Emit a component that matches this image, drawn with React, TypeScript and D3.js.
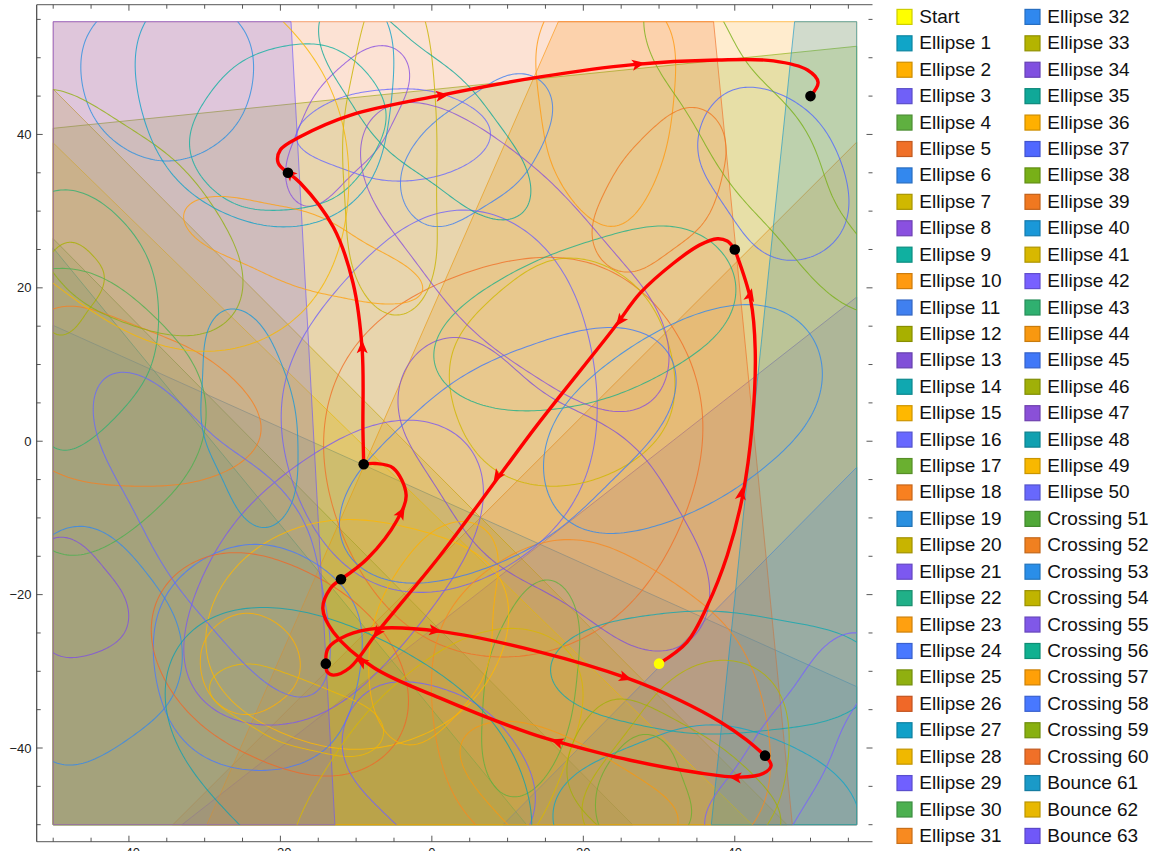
import React from "react";
import * as d3 from "d3";

type P = number[];
const ellipse1: P[] = [[16,-50.1],[16.9,-45.8],[23.2,-41],[35.4,-37.1],[45.1,-38.7],[53.9,-44],[56.2,-48.8],[53.9,-54.7],[35.4,-59.9],[22.2,-57.3]];
const ellipse2: P[] = [[-30.6,-29.2],[-28.9,-24.4],[-24,-22.4],[-19.1,-24.9],[-17.4,-29],[-18.7,-32.7],[-23.6,-35.6],[-28.4,-34.1]];
const ellipse3: P[] = [[1.1,30],[9.9,28.7],[16.6,23.1],[20.5,14.7],[21.8,5.4],[21.6,1.4],[20,-5.3],[15.2,-12.7],[7.7,-17.2],[1.1,-19.7],[-4.2,-19.4],[-10.4,-17.1],[-14.5,-12.9],[-17.8,-6.7],[-19.8,1.4],[-19.6,7.6],[-15.2,16.2],[-8.5,24]];
const ellipse4: P[] = [[15.4,-17.7],[19.2,-22.7],[19.3,-29.2],[17.9,-38],[14.7,-44],[10.6,-46.6],[7.3,-43.2],[6.6,-36.1],[7.7,-28.3],[10.3,-22.3]];
const ellipse5: P[] = [[-13.7,2.1],[-12.1,10.6],[-8.5,14.1],[1.1,20.7],[13,23.9],[23.2,22.3],[31.9,14.9],[36.1,1.4],[35.1,-4.4],[29.8,-16.6],[23.2,-24],[14.3,-27.5],[8.6,-28],[1.1,-26.6],[-4.2,-23.6],[-9.5,-16.2],[-13,-10],[-14.1,-3.5]];
const ellipse6: P[] = [[-50,-12],[-41.6,-13.2],[-35,-21],[-33,-27.5],[-35.5,-35.4],[-42.1,-39.7],[-50,-42],[-59.7,-27.3]];
const ellipse7: P[] = [[2.2,8.9],[5.5,16.2],[16.6,23.9],[27.5,19.7],[31.9,9.7],[30.6,1.4],[24.9,-3.5],[16.6,-5.9],[7.7,-3.5],[4,2.1]];
const ellipse8: P[] = [[-5.5,51.5],[-2.9,47.5],[-6.4,39.3],[-11.2,34.1],[-16.1,30.4],[-19,33.1],[-18.7,38],[-15.2,45.4],[-10.4,50.1]];
const ellipse9: P[] = [[-32.1,39.3],[-28.6,46.4],[-23.3,50.4],[-17.4,51.7],[-12.1,51],[-7.5,46.4],[-5.9,42.8],[-6.8,39.3],[-12.1,32.1],[-21,30.1],[-27,31.4],[-30.6,35]];
const ellipse10: P[] = [[14.7,54.7],[14,46.7],[16,35.7],[22.6,27.9],[27.5,30.5],[31.5,40.2],[31.9,48.8],[31.2,54.7],[22.2,61.4]];
const ellipse11: P[] = [[-3.9,31.8],[-3.1,37.6],[1.1,42.1],[6.4,45.8],[12.1,48],[16,44.1],[13,35.7],[6.8,30.5],[0.2,27.9]];
const ellipse12: P[] = [[-50,24.7],[-46.9,25.8],[-43.2,21.4],[-46.9,15.1],[-50,14.1],[-52.4,19.7]];
const ellipse13: P[] = [[-4.5,7.3],[1.1,13.4],[5.5,13.2],[7.7,12.3],[14.3,6.3],[23.2,2.1],[32.8,-8.7],[36.4,-18.8],[35.8,-24],[31.9,-27.5],[27.5,-26.6],[20.9,-23.6],[14.3,-19.2],[5.5,-13.2],[-2.9,0.1]];
const ellipse14: P[] = [[15.1,-30.1],[18.7,-25.7],[25.8,-23.1],[35.4,-22.2],[45.1,-23.1],[56.2,-26.2],[59.2,-31.2],[56.2,-34.2],[49.6,-37.1],[36.4,-38.1],[27.5,-37.1],[19.6,-34.4]];
const ellipse15: P[] = [[-29.7,-26],[-28.1,-19.4],[-22.7,-13.6],[-15.2,-10.7],[-10.4,-10.3],[-4.2,-10.7],[1.1,-12.9],[5.5,-14.5],[8.6,-16.2],[9.9,-24],[9.6,-27.5],[6.8,-31.8],[1.1,-37.4],[-4.2,-39.3],[-10.4,-40],[-15.2,-39.7],[-24,-35.8],[-29.7,-29.2]];
const ellipse16: P[] = [[-18.1,40.2],[-13,44.5],[-5.1,45.9],[1.1,45.4],[5.5,43.2],[8,40.2],[5.5,36.7],[1.1,34.7],[-4.6,33.9],[-11.7,35.4],[-17.4,38.4]];
const ellipse17: P[] = [[22,-50.1],[22.6,-43.2],[27.1,-38.4],[31.1,-39.7],[33.7,-45.8],[33.9,-50.1],[27.5,-54.7]];
const ellipse18: P[] = [[-50,17.5],[-41.6,15.8],[-30.6,11.5],[-24,5.3],[-22.3,1.4],[-23.1,-0.9],[-28.4,-4.4],[-37.2,-6],[-43.8,-5.3],[-50,-4],[-59.7,6.7]];
const ellipse19: P[] = [[-46.3,48.1],[-44.3,54.7],[-35,59.8],[-25.6,54.7],[-23.6,48.1],[-26.6,40.2],[-35,36.5],[-43.2,40.2]];
const ellipse20: P[] = [[-8.8,54.7],[-11.2,44.5],[-11.7,35.7],[-10.4,22.7],[-5.1,16],[-0.2,20.6],[0.7,31.4],[0.2,48.8],[-1.1,54.7],[-4.8,61.4]];
const ellipse21: P[] = [[-32.9,-27.5],[-31.9,-22.3],[-28.9,-14.9],[-22.7,-7],[-13,-0.1],[-7.2,2.1],[-2.5,2.7],[1.1,2.1],[5.5,-1.4],[6.8,-6.7],[6.4,-10.6],[3.7,-15.3],[1.1,-21.4],[-4.2,-26],[-8.5,-31.8],[-15.2,-35.7],[-23.1,-36.9],[-29.7,-34.4],[-31.9,-31.2]];
const ellipse22: P[] = [[0,10.6],[2.4,15.8],[11.7,22.6],[27.5,27.8],[35.4,26.9],[40.1,21],[38.1,14.5],[30.2,8.6],[19.6,4.7],[11.7,4],[3.7,6]];
const ellipse23: P[] = [[-33.2,29.7],[-28.9,31.8],[-17.4,30.1],[-8.5,25.8],[-0.6,20.1],[-5.1,18],[-14.8,19.3],[-24,22.7],[-30.6,26.2]];
const ellipse24: P[] = [[-36.8,-27.5],[-35,-19.7],[-28.9,-14.9],[-23.6,-13.3],[-17.4,-14.9],[-10.8,-20.1],[-9.2,-26.6],[-11.2,-36.1],[-15.7,-41.4],[-23.1,-42.8],[-30.6,-41],[-35,-35.4]];
const ellipse25: P[] = [[-50,45.9],[-39.5,40.6],[-30.6,33.1],[-24.9,21.9],[-27,15.8],[-32.9,13.8],[-43.8,16.7],[-50,22.3],[-55,32.7],[-55.7,43.2]];
const ellipse26: P[] = [[-36.9,-24],[-35,-18.4],[-28.9,-14.9],[-25.6,-14.5],[-18.3,-16.2],[-8.5,-22.3],[-4.2,-29.2],[-3,-33.5],[-5.1,-40],[-10.8,-43.2],[-14.8,-43.7],[-26.2,-40],[-35,-31.8]];
const ellipse27: P[] = [[-38,54.7],[-39.1,48.4],[-35.9,36.7],[-30.6,31.8],[-22,27.9],[-13,29.7],[-7.8,34.1],[-5.1,47.1],[-5.9,54.7],[-13.4,61.4],[-26.6,62.8]];
const ellipse28: P[] = [[-29.7,-32.1],[-26.6,-29.5],[-22.7,-29.2],[-15.2,-31.8],[-8.5,-34.8],[-6.2,-38.1],[-8.5,-40.6],[-12.1,-41],[-19.6,-39.3],[-26.2,-35.7]];
const ellipse29: P[] = [[-11.7,-40.6],[-11.2,-36.1],[-8.5,-32.7],[-4.6,-31.3],[1.1,-32.2],[5.5,-34.1],[9,-36.7],[13.4,-44],[13.9,-46.6],[12.6,-50.1],[9,-54.7],[1.1,-54.7],[-4.2,-50.1],[-8.5,-46.6]];
const ellipse30: P[] = [[-50,22.4],[-43.8,21.3],[-35,14.9],[-30.2,6.7],[-29.9,2.1],[-33.2,-5.7],[-38.8,-11],[-43.8,-13.3],[-50,-14.6],[-63.6,4],[-58.4,18.4]];
const ellipse31: P[] = [[-0.5,-30.9],[1.1,-24.9],[5.5,-18.4],[12.1,-14],[17.9,-12.9],[25.3,-14.5],[31.9,-18.4],[37.7,-23.1],[42,-28.8],[44.4,-37.1],[43.8,-47.1],[43,-50.1],[24.9,-59.9],[5.5,-50.1],[2.4,-44.9],[0.7,-37.1]];
const ellipse32: P[] = [[16,1.4],[20,7.6],[31.9,15.4],[40.7,17.7],[47.7,16.2],[51.6,9.7],[48.9,1.4],[40.7,-5.7],[32.8,-10],[24,-11.9],[17.9,-10.6],[14.6,-3.5]];
const ellipse33: P[] = [[19.9,-50.1],[23.2,-41.4],[31.9,-30.9],[39.4,-28.7],[45.1,-31.4],[47.1,-39.3],[44.3,-50.1],[32.8,-57.3]];
const ellipse34: P[] = [[-50,-12.5],[-43.8,-15.8],[-40,-22.4],[-42.1,-26.6],[-46.9,-28],[-50,-27.7],[-54.4,-20.7]];
const ellipse35: P[] = [[-15.2,54.7],[-14.8,52.3],[-9.1,41.5],[1.1,32.7],[6,30.1],[10.3,28.7],[13.2,31.8],[9.9,40.2],[4.1,46.7],[1.1,49.7],[-5.8,54.5],[-10.8,58.2]];
const ellipse36: P[] = [[-8.4,-28.6],[-7.5,-23.4],[-4.2,-16.2],[1.1,-11.2],[3.8,-10.6],[7.7,-11.9],[8.6,-16.6],[6.8,-30.9],[1.1,-37.4],[-1.5,-39.7],[-4.2,-39.4],[-7.2,-36.1]];
const ellipse37: P[] = [[35,38.4],[37.7,44.5],[42,46.2],[49.6,43.2],[53.9,36.7],[55,31.4],[53.5,26.2],[47.7,23.6],[43.4,24.9],[38.1,31.4]];
const ellipse38: P[] = [[27.6,54.7],[31.9,45.8],[38.5,34.9],[45.1,27.1],[49.6,22.3],[56.2,16.7],[61.9,18.4],[56.2,26],[51.7,35.7],[45.1,45.8],[37.8,54.7],[32.8,61.4]];
const ellipse39: P[] = [[21.3,27.1],[22.2,31.4],[27.5,39.3],[34.5,43.7],[38.5,40.2],[38.7,36.7],[36.4,29.2],[29.8,23.6],[25.3,22],[21.8,24.5]];
const ellipse40: P[] = [[-30.2,1.4],[-30.3,9.7],[-28.9,15.8],[-26.4,17.4],[-21.8,14.1],[-18.3,5.3],[-17.7,-2.2],[-18.3,-7.4],[-21.6,-11.5],[-24.9,-9.7],[-28.4,-3.5]];
const ellipse41: P[] = [[-17.4,-50.1],[-15.2,-44.5],[-8.5,-35.4],[1.1,-27.3],[11.3,-24.3],[18.3,-27.9],[19.9,-32.5],[17.6,-42.3],[9,-54.7],[-14.8,-59.9],[-18.7,-54.7]];
const ellipse42: P[] = [[35.8,-50.1],[43,-38.4],[49.6,-29.6],[53.9,-25.3],[56.2,-24.8],[59.2,-27.3],[56.6,-33.1],[52.2,-41.9],[47.7,-50.1],[42,-54.7]];
const ellipse43: P[] = [[-48,32.9],[-39.5,27.5],[-36,16.2],[-39.5,5.3],[-48,-1],[-50,-0.9],[-59.7,15.8],[-54.4,29.5],[-50,32.5]];
const ellipse44: P[] = [[3.3,-40.6],[4.7,-38],[9,-36.5],[16.6,-38],[23.2,-41.4],[29.8,-45.8],[32.8,-50.1],[22.2,-57.3],[9.9,-50.1],[5.5,-44]];
const ellipse45: P[] = [[-12.4,-11.9],[-9.1,-3.1],[-3.8,2.1],[1.1,6.3],[9.9,11.5],[22.6,14.7],[29.8,13.2],[32.4,8.3],[30.2,2.1],[27.5,-1.4],[20,-8.7],[15.2,-12.7],[7.7,-16.2],[1.1,-18.4],[-4.2,-18.3],[-10.5,-15.5]];
const ellipse46: P[] = [[17.9,-41.4],[23.2,-33.5],[29.8,-35.4],[38.5,-40.1],[46.4,-50.1],[35.4,-57.3],[21.8,-50.1],[18.7,-45.8]];
const ellipse47: P[] = [[-9.1,38.9],[-7.8,42.9],[-4.2,44.1],[1.1,43.2],[7.7,40.2],[13.9,35.4],[18.7,30.5],[23.2,25.8],[28.4,19.3],[31.1,11.9],[30.6,6.7],[25.8,3.8],[20.5,4.7],[14.3,8.3],[7.7,12.3],[1.1,19.3],[-7.8,31.4]];
const ellipse48: P[] = [[-35,-31.8],[-33.2,-26.2],[-28,-22.7],[-21.4,-21.7],[-13,-23.1],[-6.8,-26.2],[1.1,-30.1],[9.9,-39.3],[13,-50.1],[9,-58.6],[-10.8,-59.9],[-25.3,-50.1],[-33.6,-39.7]];
const ellipse49: P[] = [[-50,21.3],[-43.8,15.8],[-30.6,11.7],[-19.6,14.9],[-13,22.7],[-11.1,33.7],[-12.1,43.2],[-15.2,49.1],[-20,54.7],[-30.6,62.8],[-50.4,65.4],[-62.3,51],[-61,31.4]];
const ellipse50: P[] = [[-44.5,2.1],[-38.5,-11],[-30.6,-22.7],[-21.8,-31.4],[-16.5,-33.8],[-14.1,-32.2],[-13.7,-29.2],[-14.8,-15.5],[-17.4,-10.3],[-21.8,-4.4],[-29.7,1.4],[-35,6.3],[-41.6,9.5],[-44.5,6.3]];

const ellipses = [ellipse1,ellipse2,ellipse3,ellipse4,ellipse5,ellipse6,ellipse7,ellipse8,ellipse9,ellipse10,ellipse11,ellipse12,ellipse13,ellipse14,ellipse15,ellipse16,ellipse17,ellipse18,ellipse19,ellipse20,ellipse21,ellipse22,ellipse23,ellipse24,ellipse25,ellipse26,ellipse27,ellipse28,ellipse29,ellipse30,ellipse31,ellipse32,ellipse33,ellipse34,ellipse35,ellipse36,ellipse37,ellipse38,ellipse39,ellipse40,ellipse41,ellipse42,ellipse43,ellipse44,ellipse45,ellipse46,ellipse47,ellipse48,ellipse49,ellipse50];

const ellipseColors = ["#10a5c8","#ffb000","#7060f8","#5fb040","#f07028","#3388ee","#d0b800","#8a50e0","#10b0a0","#ff9a10","#4080f0","#a8b000","#8050d8","#10a8b0","#ffb800","#6868ff","#6ab030","#f88020","#2a90e0","#c8b400","#7c58f0","#20b088","#ffa010","#4878ff","#90b010","#f06828","#10a0c8","#f0b800","#7060ff","#4cb050","#f88a20","#3088ee","#b4b400","#8050e0","#10a898","#ffb000","#5068ff","#78b018","#f07820","#1a98d8","#d8b800","#7860ff","#30b070","#f89810","#4078f8","#a0b008","#8a50d8","#10a0b0","#f8b800","#6868fc"];

// half-plane regions, vertices in data units
const crossing51: P[] = [[-50,26.4],[26.5,-50],[-50,-50]];
const crossing52: P[] = [[-34.2,-50],[56.1,39],[56.1,-50]];
const crossing53: P[] = [[-50,15.1],[56.1,-32],[56.1,-50],[-50,-50]];
const crossing54: P[] = [[-50,45.9],[46.9,-50],[-50,-50]];
const crossing55: P[] = [[-33,-50],[56.1,18.8],[56.1,-50]];
const crossing56: P[] = [[-50,25.2],[12.5,-50],[-50,-50]];
const crossing57: P[] = [[16.7,54.7],[56.1,54.7],[56.1,-50],[-29.7,-50]];
const crossing58: P[] = [[9.4,-50],[56.1,-3.4],[56.1,-50]];
const crossing59: P[] = [[-50,40.8],[56.1,51.5],[56.1,-50],[-50,-50]];
const crossing60: P[] = [[-50,54.7],[37.2,54.7],[47.6,-50],[-50,-50]];
const bounce61: P[] = [[47.9,54.7],[56.1,54.7],[56.1,-50],[36.9,-50]];
const bounce62: P[] = [[-50,38.9],[42.3,-50],[-50,-50]];
const bounce63: P[] = [[-50,54.7],[-18.6,54.7],[-12.8,-50],[-50,-50]];

const regionColors = ["#50a838","#f08020","#2a8ee8","#c0b400","#8058e8","#10b090","#ffa008","#4878ff","#88b010","#f07028","#1a9ac8","#e8b800","#7058f8"];
const regions = [crossing51,crossing52,crossing53,crossing54,crossing55,crossing56,crossing57,crossing58,crossing59,crossing60,bounce61,bounce62,bounce63];
const regionOrder = [0,1,2,3,4,5,6,7,8,9,11,10,12];

const seg1: P[] = [[30,-29],[33.7,-26.2],[36.4,-21.4],[39,-14.9],[41,-7.3],[42.3,2.1],[42.7,11.9],[42.1,18.4],[40,25]];
const seg2: P[] = [[40,25],[39,26.1],[37.7,26.4],[35.4,25.6],[31.9,23.2],[27.5,19.3],[24,14.7],[13.9,2.1],[9,-4.4],[1.1,-14.9],[-7.2,-24.9],[-10.8,-29.5],[-13,-30.5],[-13.8,-30.1],[-14,-29]];
const seg3: P[] = [[-14,-29],[-13.7,-27],[-11.2,-25.3],[-7.2,-24.4],[1.1,-24.8],[14.3,-27.5],[25.8,-30.9],[32.8,-33.8],[38.1,-36.6],[41.5,-38.9],[44,-41]];
const seg4: P[] = [[44,-41],[44.8,-42.3],[43.8,-43.3],[40.7,-43.8],[35,-43.2],[26.2,-41.6],[17.4,-39.4],[13,-38.1],[1.1,-33.5],[-7.7,-29.5],[-13,-24.9],[-14.4,-21.8],[-13.4,-19.2],[-12,-18]];
const seg5: P[] = [[-12,-18],[-8.5,-15.3],[-4.6,-10.3],[-3.4,-7],[-5.1,-3.5],[-7.5,-2.9],[-9,-3]];
const seg6: P[] = [[-9,-3],[-9.1,1.4],[-9.2,11.9],[-10.4,20.6],[-13,27.9],[-17.4,33.7],[-19,35]];
const seg7: P[] = [[-19,35],[-20.3,36.3],[-20,38],[-17.4,39.7],[-10.8,42.5],[1.1,45.1],[14.3,47.5],[26.6,49.1],[37.7,49.7],[45.1,49.6],[49.6,48.4],[51,46.8],[50,45]];
const segments = [seg1,seg2,seg3,seg4,seg5,seg6,seg7];

const arrows: number[][] = [[40.6,-8.5,40.9,-6.6],[41.7,17.7,42.1,19.3],[25.9,17.1,24.7,15.5],[9.5,-3.3,8.5,-4.8],[-6.2,-23.6,-7.4,-25.2],[-1,-24.5,0.7,-24.7],[24.2,-30.4,25.8,-30.9],[41.6,-44,39.8,-43.8],[18,-39.7,16.3,-39.1],[-7.9,-29.6,-9.5,-28.6],[-4.8,-10.7,-3.9,-9.1],[-9.2,10.8,-9.2,12.5],[-17.8,34,-19,35.1],[-0.2,44.9,1.6,45.1],[25.7,48.9,27.5,49.2]];
const bouncePoints: P[] = [[50,45],[-19,35],[-9,-3],[-12,-18],[-14,-29],[44,-41],[40,25]];
const startPoint: P = [30,-29];

const xTicks = d3.range(-50, 60, 5);
const yTicks = d3.range(-50, 60, 5);
const majorLabels = [-40,-20,0,20,40];

const legendNames = ["Start",...d3.range(1,51).map(i=>`Ellipse ${i}`),...d3.range(51,61).map(i=>`Crossing ${i}`),...d3.range(61,64).map(i=>`Bounce ${i}`)];
const legendColors = ["#ffff00",...ellipseColors,...regionColors];

const x = d3.scaleLinear().domain([-50,56.1]).range([53.2,856.7]);
const y = d3.scaleLinear().domain([-50,54.7]).range([824.7,21.7]);
const open = d3.line<P>().x(d=>x(d[0])).y(d=>y(d[1])).curve(d3.curveCatmullRom.alpha(0.5));
const poly = d3.line<P>().x(d=>x(d[0])).y(d=>y(d[1])).curve(d3.curveLinearClosed);
const closedPx = d3.line<P>().curve(d3.curveLinearClosed);
const FONT = "'Liberation Sans', Arial, sans-serif";
const fmt = (v:number)=> v<0 ? `\u2212${-v}` : `${v}`;

// The outline read off the picture is a handful of points: draw it as a smooth
// closed curve (spline through the points, low-pass along its arc length).
function smoothOutline(pts:P[], K=5, N=256):P[]{
  const px = pts.map(p=>[x(p[0]),y(p[1])]);
  const n = px.length, dense:P[] = [];
  for(let i=0;i<n;i++){
    const a=px[(i-1+n)%n],b=px[i],c=px[(i+1)%n],d=px[(i+2)%n];
    for(let s=0;s<16;s++){
      const t=s/16,t2=t*t,t3=t2*t;
      dense.push([0,1].map(k=>0.5*(2*b[k]+(c[k]-a[k])*t+(2*a[k]-5*b[k]+4*c[k]-d[k])*t2+(3*b[k]-a[k]-3*c[k]+d[k])*t3)));
    }
  }
  const lens=[0];
  for(let i=0;i<dense.length;i++){
    const a=dense[i],b=dense[(i+1)%dense.length];
    lens.push(lens[i]+Math.hypot(b[0]-a[0],b[1]-a[1]));
  }
  const total=lens[lens.length-1];
  const sam:P[]=[]; let j=0;
  for(let i=0;i<N;i++){
    const l=total*i/N;
    while(lens[j+1]<l) j++;
    const f=(l-lens[j])/((lens[j+1]-lens[j])||1);
    const a=dense[j],b=dense[(j+1)%dense.length];
    sam.push([a[0]+(b[0]-a[0])*f,a[1]+(b[1]-a[1])*f]);
  }
  const coef:number[][]=[];
  for(let k=0;k<=K;k++){
    let cx=0,sx=0,cy=0,sy=0;
    sam.forEach((p,i)=>{const w=2*Math.PI*k*i/N;cx+=p[0]*Math.cos(w);sx+=p[0]*Math.sin(w);cy+=p[1]*Math.cos(w);sy+=p[1]*Math.sin(w);});
    coef.push([cx/N,sx/N,cy/N,sy/N]);
  }
  return sam.map((_,i)=>{
    let a=coef[0][0],b=coef[0][2];
    for(let k=1;k<=K;k++){
      const w=2*Math.PI*k*i/N,c=Math.cos(w),s=Math.sin(w);
      a+=2*(coef[k][0]*c+coef[k][1]*s);
      b+=2*(coef[k][2]*c+coef[k][3]*s);
    }
    return [a,b];
  });
}

export default function App(){
  const L=36.7,T=4.7,B=841.7,R=872.5;
  return (
    <svg width={1158} height={851} viewBox="0 0 1158 851" style={{position:"absolute",left:0,top:0,display:"block",background:"#fff"}} fontFamily={FONT}>
      <defs><clipPath id="plot"><rect x={x(-50)} y={y(54.7)} width={x(56.1)-x(-50)} height={y(-50)-y(54.7)}/></clipPath></defs>
      <g>
        {regionOrder.map(i=>(
          <path key={i} d={poly(regions[i])!} fill={regionColors[i]} fillOpacity={0.2} stroke={regionColors[i]} strokeOpacity={0.65} strokeWidth={1}/>
        ))}
      </g>
      <g clipPath="url(#plot)" fill="none" strokeWidth={1.05} strokeOpacity={0.8}>
        {ellipses.map((e,i)=>(<path key={i} d={closedPx(smoothOutline(e) as [number,number][])!} stroke={ellipseColors[i]}/>))}
      </g>
      <g stroke="#777" strokeWidth={1.2}>
        <line x1={L} x2={R} y1={T} y2={T}/>
        <line x1={L} x2={R} y1={B} y2={B}/>
      </g>
      <line x1={L} x2={L} y1={T} y2={B} stroke="#444" strokeWidth={1.2}/>
      <g stroke="#444" strokeWidth={0.9}>
        {xTicks.map(t=>{const m=t%20===0; const l=m?6:4; return <g key={t}>
          <line x1={x(t)} x2={x(t)} y1={T} y2={T+l}/>
          <line x1={x(t)} x2={x(t)} y1={B} y2={B-l}/>
        </g>})}
        {yTicks.map(t=>{const m=t%20===0; const l=m?6:4; return <g key={t}>
          <line x1={L} x2={L+l} y1={y(t)} y2={y(t)}/>
          <line x1={R} x2={R-l} y1={y(t)} y2={y(t)}/>
        </g>})}
      </g>
      <g fontSize={13} fill="#222">
        {majorLabels.map(t=>(<text key={"y"+t} x={31.5} y={y(t)+4.5} textAnchor="end">{fmt(t)}</text>))}
        {majorLabels.map(t=>(<text key={"x"+t} x={x(t)} y={856.5} textAnchor="middle">{fmt(t)}</text>))}
      </g>
      <g fill="none" stroke="#ff0000" strokeWidth={3.4}>
        {segments.map((s,i)=>(<path key={i} d={open(s)!}/>))}
      </g>
      <g fill="#ff0000">
        {arrows.map((a,i)=>{
          const x0=x(a[0]),y0=y(a[1]),x1=x(a[2]),y1=y(a[3]);
          const ang=Math.atan2(y1-y0,x1-x0)*180/Math.PI;
          return <path key={i} transform={`translate(${x1},${y1}) rotate(${ang})`} d="M5,0L-8,-5.5L-5,0L-8,5.5Z"/>;
        })}
      </g>
      {bouncePoints.map((p,i)=>(<circle key={i} cx={x(p[0])} cy={y(p[1])} r={5.3} fill="#000"/>))}
      <circle cx={x(startPoint[0])} cy={y(startPoint[1])} r={5.3} fill="#ffff00"/>
      <g fontSize={19} fill="#111">
        {legendNames.map((n,i)=>{
          const col=i<32?0:1; const row=i<32?i:i-32;
          const sx=col===0?897:1025; const cy=16.9+row*26.42;
          const c=legendColors[i];
          return <g key={n}>
            <rect x={sx} y={cy-7.5} width={15} height={15} fill={c} stroke={d3.color(c)!.darker(0.6).formatHex()} strokeWidth={1.2}/>
            <text x={sx+22.3} y={cy+6}>{n}</text>
          </g>;
        })}
      </g>
    </svg>
  );
}
